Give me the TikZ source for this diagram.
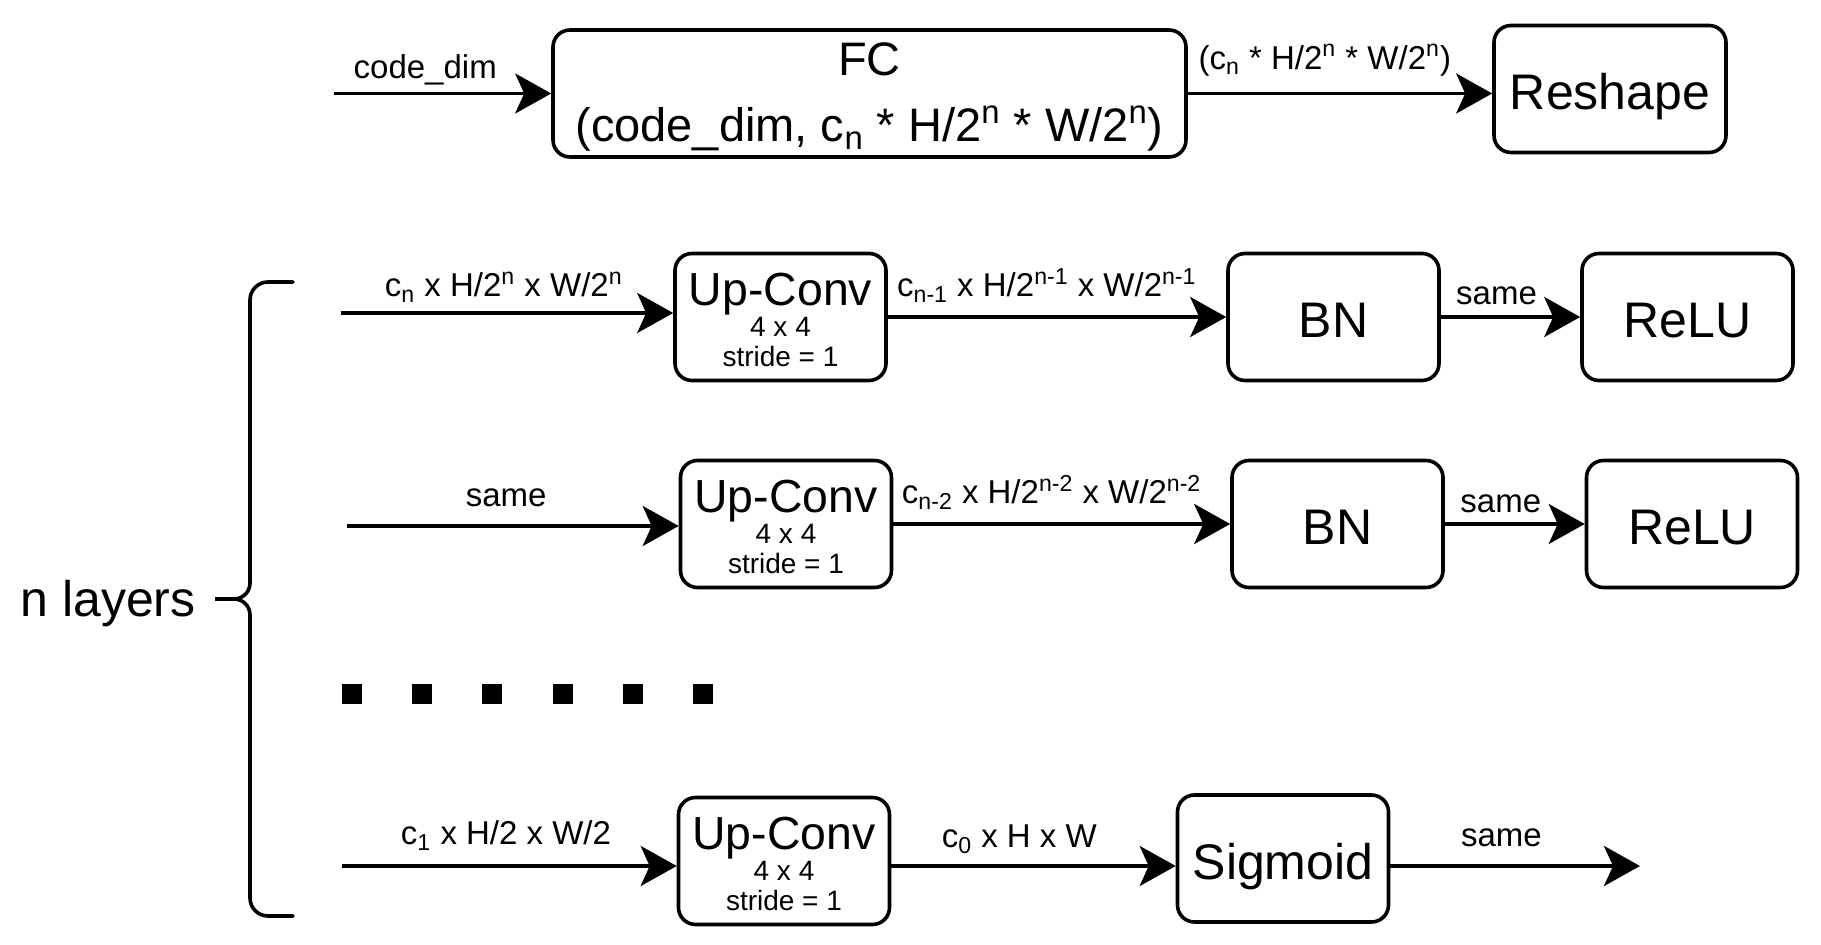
\documentclass[tikz,border=0pt]{standalone}
\usepackage{fontspec}
\setmainfont{Liberation Sans}
\usetikzlibrary{arrows.meta}
\begin{document}
\begin{tikzpicture}[x=0.5pt,y=-0.5pt,
    decBox/.style={draw,line width=1.8pt,rounded corners=8.5pt,inner sep=0pt,
      minimum width=105.5pt,minimum height=63.5pt,font=\fontsize{25}{30}\selectfont,
      text height=20.5pt,text depth=0pt},
    decMulti/.style={draw,line width=1.8pt,rounded corners=8.5pt,inner sep=0pt,
      minimum width=105.5pt,minimum height=63.5pt,align=center},
    decConv/.style={decMulti,font=\fontsize{14}{15}\selectfont},
    decArr/.style={-{Stealth[length=18pt,width=20pt,inset=4.5pt]},line width=1.8pt},
    decLbl/.style={font=\fontsize{16.5}{20}\selectfont,anchor=base,inner sep=0pt},
    decDot/.style={fill=black,inner sep=0pt,minimum size=10pt},
    decBrace/.style={line width=1.8pt,line cap=round},
]
\newcommand{\upconv}{{\fontsize{23.2}{23.2}\selectfont\rule{0pt}{19.5pt}Up-Conv}\\[0.5pt]4 x 4\\stride = 1}
\useasboundingbox (0,0) rectangle (1821,945);
% Top row
\coordinate (in0) at (334,93.5);
\node[decMulti,minimum width=316.5pt,font=\fontsize{23.5}{33}\selectfont] (fc) at (869.5,93.5)
  {\rule{0pt}{20pt}FC\\(code\_dim, c\textsubscript{n} * H/2\textsuperscript{n} * W/2\textsuperscript{n})};
\node[decBox,minimum width=116pt] (reshape) at (1610,89) {Reshape};
\draw[decArr] (in0) -- (fc.west) node[decLbl,pos=.42,yshift=7.5pt] {code\_dim};
\draw[decArr] (fc.east) -- (fc.east -| reshape.west)
  node[decLbl,pos=.45,yshift=12pt] {(c\textsubscript{n} * H/2\textsuperscript{n} * W/2\textsuperscript{n})};
% Layer 1
\coordinate (in1) at (341,313);
\node[decConv] (up1) at (780.5,317) {\upconv};
\node[decBox] (bn1) at (1333.5,317) {BN};
\node[decBox] (relu1) at (1687.5,317) {ReLU};
\draw[decArr] (in1) -- (in1 -| up1.west)
  node[decLbl,pos=.49,yshift=8pt] {c\textsubscript{n} x H/2\textsuperscript{n} x W/2\textsuperscript{n}};
\draw[decArr] (up1) -- (bn1)
  node[decLbl,pos=.47,yshift=10pt] {c\textsubscript{n-1} x H/2\textsuperscript{n-1} x W/2\textsuperscript{n-1}};
\draw[decArr] (bn1) -- (relu1) node[decLbl,pos=.40,yshift=6pt] {same};
% Layer 2
\coordinate (in2) at (347,526);
\node[decConv] (up2) at (786,524) {\upconv};
\node[decBox] (bn2) at (1337.5,524) {BN};
\node[decBox] (relu2) at (1692,524) {ReLU};
\draw[decArr] (in2) -- (in2 -| up2.west) node[decLbl,pos=.48,yshift=9.5pt] {same};
\draw[decArr] (up2) -- (bn2)
  node[decLbl,pos=.47,yshift=10pt] {c\textsubscript{n-2} x H/2\textsuperscript{n-2} x W/2\textsuperscript{n-2}};
\draw[decArr] (bn2) -- (relu2) node[decLbl,pos=.40,yshift=5.5pt] {same};
% Dots
\foreach \k in {0,...,5}
  \node[decDot] (dot\k) at ({352+70.2*\k},694) {};
% Last layer
\coordinate (in3) at (342,866);
\coordinate (out3) at (1640,866);
\node[decConv] (up3) at (784,861) {\upconv};
\node[decBox] (sig) at (1283,858.5) {Sigmoid};
\draw[decArr] (in3) -- (in3 -| up3.west)
  node[decLbl,pos=.49,yshift=10.5pt] {c\textsubscript{1} x H/2 x W/2};
\draw[decArr] (up3.east |- in3) -- (sig.west |- in3)
  node[decLbl,pos=.45,yshift=9pt] {c\textsubscript{0} x H x W};
\draw[decArr] (sig.east |- out3) -- (out3) node[decLbl,pos=.445,yshift=9.5pt] {same};
% Brace
\node[font=\fontsize{25}{30}\selectfont,anchor=base east,inner sep=0pt] (nlay) at (196,617) {n layers};
\draw[decBrace] (293,282) -- (268,282) to[out=180,in=90] (250,300) -- (250,583)
  to[out=270,in=0] (234,599) -- (215,599) -- (234,599) to[out=0,in=90] (250,615)
  -- (250,898) to[out=270,in=180] (268,916) -- (293,916);
\end{tikzpicture}
\end{document}
